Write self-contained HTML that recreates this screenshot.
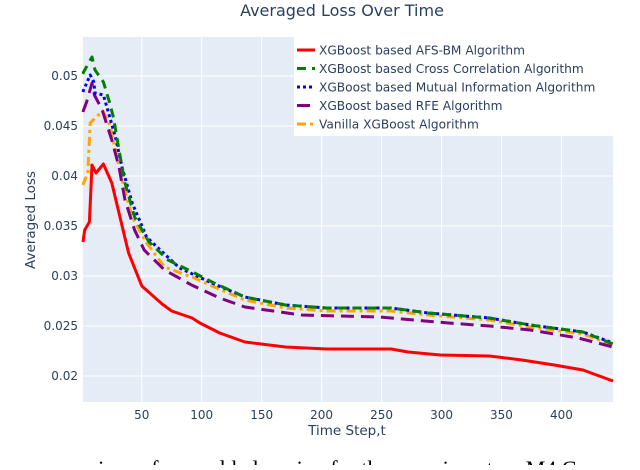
<!DOCTYPE html>
<html><head><meta charset="utf-8"><style>
body{margin:0;background:#fff;}
svg text{font-family:"DejaVu Sans","Liberation Sans",sans-serif;fill:#2a3f5f;}
</style></head><body>
<svg id="chart" width="640" height="465" xmlns="http://www.w3.org/2000/svg">
<rect x="83" y="37" width="530" height="365" fill="#e5ecf6"/>
<g id="grid"></g>
<g id="ticks"></g>
<g id="series"></g>
<text x="342" y="16" text-anchor="middle" font-size="16">Averaged Loss Over Time</text>
<text x="347" y="435" text-anchor="middle" font-size="13.5">Time Step,t</text>
<text transform="translate(35,220) rotate(-90)" text-anchor="middle" font-size="13.5">Averaged Loss</text>
<g id="legend"></g>
<text x="70" y="476" font-size="22" style="font-family:'Liberation Serif',serif;fill:#000">parison of ensemble learning for the experiment on M4 Comp</text>
</svg>
<script>
const xTicks=[50,100,150,200,250,300,350,400];
const yTicks=[0.02,0.025,0.03,0.035,0.04,0.045,0.05];
const yTickLabels=["0.02","0.025","0.03","0.035","0.04","0.045","0.05"];
const seriesNames=["XGBoost based AFS-BM Algorithm","XGBoost based Cross Correlation Algorithm","XGBoost based Mutual Information Algorithm","XGBoost based RFE Algorithm","Vanilla XGBoost Algorithm"];
const redT=[1,2.4,6.3,8.5,11.8,18,25,31,39,50,67,75,92,98.5,115,136,170,204,258,272,299,340,367,394,418,443];
const redV=[0.0334,0.0346,0.0354,0.0411,0.0403,0.0412,0.0393,0.0363,0.0323,0.0290,0.0272,0.0265,0.0258,0.0253,0.0243,0.0234,0.0229,0.0227,0.0227,0.0224,0.0221,0.0220,0.0216,0.0211,0.0206,0.0195];
const greenT=[1,1.5,8.5,11,18,23,26.5,31,36,44,56,72,94,108.5,136,170,204,258,289,340,374,418,443];
const greenV=[0.0502,0.0504,0.0519,0.0506,0.0494,0.0474,0.0458,0.0426,0.0393,0.0359,0.0334,0.0316,0.0303,0.0294,0.0279,0.0271,0.0268,0.0268,0.0263,0.0258,0.0251,0.0244,0.0232];
const blueT=[1,1.5,7,10,11,18,23.5,28,33.5,42,54,61,81.5,108.5,136,170,204,258,289,340,374,418,443];
const blueV=[0.0484,0.0486,0.0501,0.0494,0.0483,0.0481,0.0458,0.0439,0.0409,0.0373,0.0339,0.0331,0.0308,0.0293,0.0279,0.0271,0.0268,0.0268,0.0263,0.0258,0.0251,0.0244,0.0233];
const purpleT=[1,1.5,4,8.5,10.5,17,25,31,36,44,52,69,91.6,115,136,183,248,258,306,340,374,414,443];
const purpleV=[0.0464,0.0466,0.0474,0.0493,0.0481,0.0466,0.0436,0.0409,0.0376,0.0346,0.0326,0.0306,0.0291,0.0278,0.0269,0.0261,0.0259,0.0258,0.0253,0.0250,0.0246,0.0238,0.0229];
const orangeT=[1,1.5,5,7,11,17.5,23.5,28,33.5,42,54,69,94,108.5,136,170,204,258,289,340,374,418,443];
const orangeV=[0.0391,0.0393,0.0403,0.0453,0.0458,0.0465,0.0451,0.0426,0.0396,0.0359,0.0333,0.0309,0.0298,0.0290,0.0276,0.0268,0.0265,0.0265,0.0261,0.0256,0.0249,0.0242,0.0231];

const X0=83,X1=613,Y0=37,Y1=402,XMIN=1,XMAX=443,YMIN=0.0174,YMAX=0.0539;
function sx(t){return X0+(t-XMIN)/(XMAX-XMIN)*(X1-X0);}
function sy(v){return Y1-(v-YMIN)/(YMAX-YMIN)*(Y1-Y0);}
const NS="http://www.w3.org/2000/svg";
function mk(tag,attrs,parent){const e=document.createElementNS(NS,tag);for(const k in attrs)e.setAttribute(k,attrs[k]);parent.appendChild(e);return e;}
const grid=document.getElementById('grid'),ticks=document.getElementById('ticks');
xTicks.forEach(t=>{
  const l=mk('line',{x1:sx(t),x2:sx(t),y1:Y0,y2:Y1,stroke:'#fff','stroke-width':1},grid);
  
  
  const tx=mk('text',{x:sx(t),y:Y1+17,'text-anchor':'middle','font-size':12},ticks);
  tx.textContent=t;
  
  
});
yTicks.forEach((v,i)=>{
  const l=mk('line',{x1:X0,x2:X1,y1:sy(v),y2:sy(v),stroke:'#fff','stroke-width':1},grid);
  
  
  const tx=mk('text',{x:X0-5,y:sy(v)+4,'text-anchor':'end','font-size':12},ticks);
  tx.textContent=yTickLabels[i];
  
  
});
const styles=[
 {c:'#ff0000',d:''},
 {c:'#008000',d:'9,6'},
 {c:'#0000ff',d:'3,3'},
 {c:'#800080',d:'13,7'},
 {c:'#ffa500',d:'9,4,3,4'}];
const data=[[redT,redV],[greenT,greenV],[blueT,blueV],[purpleT,purpleV],[orangeT,orangeV]];
const names=['series-afs-bm','series-cross-correlation','series-mutual-information','series-rfe','series-vanilla'];
const sg=document.getElementById('series');
const order=[4,3,2,1,0];
order.forEach(i=>{
  const [T,V]=data[i];
  const d=T.map((t,j)=>(j?'L':'M')+sx(t).toFixed(1)+','+sy(V[j]).toFixed(1)).join(' ');
  const p=mk('path',{d:d,fill:'none',stroke:styles[i].c,'stroke-width':3,'stroke-dasharray':styles[i].d,'stroke-linejoin':'round'},sg);
  
  
});
const lg=document.getElementById('legend');
mk('rect',{x:294,y:37,width:319,height:99,fill:'#fff'},lg);
seriesNames.forEach((n,i)=>{
  const y=50+i*18.5;
  const g=mk('g',{},lg);
  
  
  mk('line',{x1:297,x2:315,y1:y,y2:y,stroke:styles[i].c,'stroke-width':3,'stroke-dasharray':styles[i].d},g);
  const t=mk('text',{x:319,y:y+4.5,'font-size':12.2},g);
  t.textContent=n;
});
</script>
</body></html>
